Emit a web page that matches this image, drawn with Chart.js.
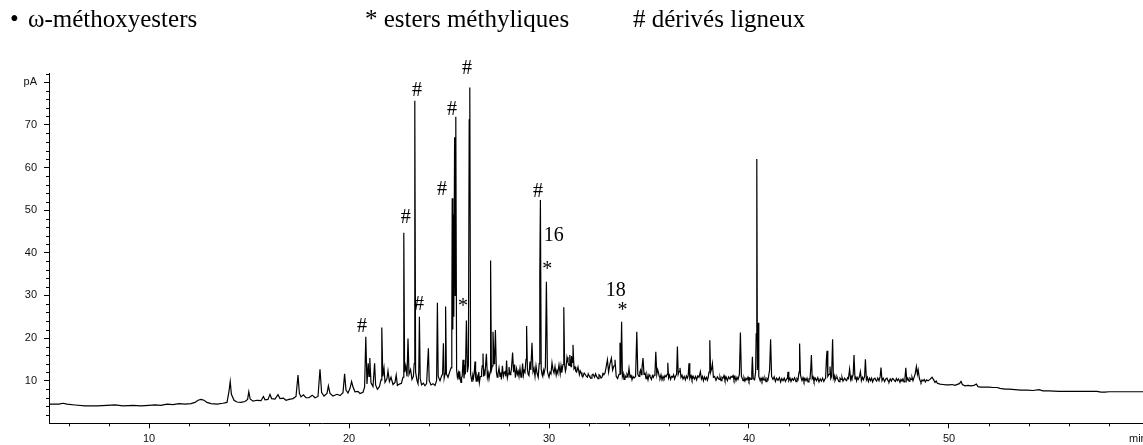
<!DOCTYPE html>
<html lang="fr">
<head>
<meta charset="utf-8">
<title>Chromatogramme</title>
<script src="https://cdn.jsdelivr.net/npm/chart.js@4/dist/chart.umd.min.js"></script>
<style>
  html, body { margin: 0; padding: 0; background: #fff; }
  #wrap { position: relative; width: 1143px; height: 445px; overflow: hidden; }
  #chart { position: absolute; left: 0; top: 0; }
  .key { position: absolute; top: 6px; font: 25px/25px "Liberation Serif", "Times New Roman", serif; color: #000; white-space: nowrap; }
</style>
</head>
<body>
<div id="wrap">
  <canvas id="chart" width="1143" height="445"></canvas>
  <span class="key" style="left:10px">•</span>
  <span class="key" style="left:28px">ω-méthoxyesters</span>
  <span class="key" style="left:365px">* esters méthyliques</span>
  <span class="key" style="left:633px"># dérivés ligneux</span>
</div>
<script>
// FID signal (pA) against retention time (min), split into runs of the trace
const traceEarly = [
  [5.0,4.5],[5.5,4.5],[5.7,4.7],[5.9,4.5],[6.3,4.3],[6.8,4.1],[7.4,4.1],[7.9,4.2],[8.3,4.3],[8.7,4.1],
  [9.2,4.2],[9.6,4.1],[10.0,4.2],[10.3,4.3],[10.6,4.2],[10.9,4.5],[11.2,4.4],[11.5,4.6],[11.8,4.5],[12.1,4.6],
  [12.3,4.9],[12.45,5.4],[12.6,5.6],[12.75,5.4],[12.9,4.9],[13.1,4.6],[13.4,4.5],[13.7,4.7],[13.9,4.9],[14.0,7.5],
  [14.06,9.8],[14.12,6.8],[14.25,5.4],[14.4,5.0],[14.6,4.9],[14.8,5.1],[14.93,5.6],[14.99,7.4],[15.06,5.7],[15.2,5.2],
  [15.4,5.4],[15.6,5.3],[15.72,6.3],[15.8,5.5],[15.95,5.6],[16.05,6.8],[16.13,5.8],[16.3,5.7],[16.45,6.7],[16.55,5.8],
  [16.72,5.9],[16.85,5.4],[17.0,5.6],[17.2,5.8],[17.35,6.3],[17.45,11.3],[17.52,7.0],[17.6,6.2],[17.72,6.7],[17.85,6.0],
  [18.0,6.0],[18.16,6.6],[18.3,6.0],[18.45,6.3],[18.55,12.7],[18.63,7.2],[18.75,6.4],[18.9,7.0],[18.97,8.8],[19.05,7.0],
  [19.2,6.4],[19.4,6.8],[19.55,6.5],[19.7,7.2],[19.78,11.6],[19.85,7.8],[19.95,7.1],[20.05,8.2],[20.13,9.8],[20.2,8.5],
  [20.3,7.4],[20.45,7.5],[20.55,7.0],[20.7,7.3],[20.78,8.5]
];

const traceMain = [
  [20.84,20.3],[20.9,9.2],[20.96,14.1],[21.0,11.0],[21.04,15.3],[21.1,9.5],[21.2,8.6],[21.28,14.1],[21.33,9.0],[21.42,8.0],
  [21.52,8.6],[21.6,10.2],[21.64,22.5],[21.69,11.0],[21.75,13.0],[21.8,9.6],[21.9,10.5],[21.95,12.3],[22.02,9.8],[22.1,10.8],
  [22.2,9.1],[22.3,9.6],[22.36,11.3],[22.42,8.9],[22.52,9.2],[22.62,9.4],[22.7,10.8],[22.74,44.7],[22.78,12.0],[22.84,13.5],
  [22.9,11.0],[22.95,19.9],[23.0,11.5],[23.08,12.6],[23.15,10.3],[23.22,11.0],[23.26,14.0],[23.29,75.7],[23.33,12.0],[23.4,10.0],
  [23.45,9.3],[23.49,12.0],[23.52,25.0],[23.56,10.5],[23.63,9.0],[23.72,9.4],[23.8,8.8],[23.88,9.3],[23.93,14.0],[23.97,17.6],
  [24.01,10.0],[24.1,9.0],[24.2,9.3],[24.3,8.9],[24.38,10.0],[24.42,28.3],[24.46,11.0],[24.55,10.0],[24.62,11.0],[24.68,11.6],
  [24.72,18.8],[24.76,10.6],[24.8,11.6],[24.83,27.4],[24.87,11.6],[24.95,10.8],[25.03,12.0],[25.1,13.0],[25.14,20.0],[25.16,52.8],
  [25.19,22.0],[25.21,49.0],[25.24,25.0],[25.28,67.1],[25.31,30.0],[25.34,71.9],[25.38,12.5],[25.42,10.8],[25.47,11.8],[25.5,10.4],
  [25.53,12.2],[25.57,10.2],[25.6,9.6],[25.63,10.8],[25.66,11.0],[25.7,14.9],[25.75,10.5],[25.79,12.6],[25.82,11.5],[25.87,24.1],
  [25.92,12.0],[25.97,13.5],[26.01,71.2],[26.04,78.8],[26.08,11.5],[26.12,10.4],[26.15,9.7],[26.19,11.3],[26.22,10.5],[26.26,11.8],
  [26.3,14.5],[26.33,11.0],[26.36,9.9],[26.4,11.2],[26.45,10.3],[26.49,12.0],[26.52,9.6],[26.56,10.9],[26.6,11.0],[26.63,12.2],
  [26.66,13.5],[26.7,16.4],[26.73,11.0],[26.76,12.0],[26.79,11.2],[26.82,13.0],[26.87,16.3],[26.92,10.8],[26.96,11.8],[27.0,10.4],
  [27.05,12.0],[27.08,38.2],[27.12,12.5],[27.17,13.5],[27.2,21.5],[27.25,14.0],[27.28,15.0],[27.32,21.9],[27.37,12.0],[27.41,10.8],
  [27.45,11.6],[27.5,13.0],[27.55,11.0],[27.59,11.9],[27.62,10.3],[27.67,13.5],[27.72,11.1],[27.76,11.9],[27.8,12.1],[27.84,11.0],
  [27.88,14.7],[27.92,10.7],[27.96,11.6],[28.0,13.2],[28.05,11.4],[28.09,11.8],[28.12,12.6],[28.18,16.6],[28.23,12.0],[28.28,13.8],
  [28.32,10.7],[28.38,12.8],[28.42,11.5],[28.46,12.2],[28.5,11.0],[28.55,12.9],[28.6,10.8],[28.64,11.6],[28.68,14.0],[28.72,11.3],
  [28.76,12.4],[28.8,12.0],[28.85,15.0],[28.88,22.8],[28.92,12.6],[28.96,11.5],[29.0,11.2],[29.05,14.5],[29.09,12.5],[29.15,18.9],
  [29.2,12.1],[29.25,12.9],[29.3,11.0],[29.35,13.5],[29.4,11.8],[29.46,10.8],[29.51,14.0],[29.54,34.6],[29.57,52.4],[29.61,12.8],
  [29.65,11.5],[29.68,11.1],[29.72,12.4],[29.75,11.6],[29.82,13.2],[29.87,33.2],[29.92,12.2],[29.96,11.4],[30.0,10.8],[30.05,12.0],
  [30.1,11.6],[30.15,14.2],[30.2,12.6],[30.25,11.8],[30.3,13.3],[30.36,11.3],[30.4,12.4],[30.44,11.8],[30.5,13.7],[30.56,11.6],
  [30.6,13.5],[30.64,11.9],[30.7,13.8],[30.74,27.2],[30.78,13.8],[30.82,12.2],[30.85,12.8],[30.9,15.5],[30.95,14.3],[31.0,13.6],
  [31.04,16.0],[31.1,13.3],[31.13,15.8],[31.16,14.3],[31.2,18.4],[31.25,12.8],[31.3,13.2],[31.34,12.2],[31.38,12.0],[31.45,13.2],
  [31.52,11.4],[31.56,12.3],[31.6,11.9],[31.65,11.2],[31.7,11.0],[31.76,11.8],[31.82,11.4],[31.87,11.0],[31.92,10.8],[31.96,11.6],
  [32.0,11.2]
];

const traceLate = [
  [32.05,10.8],[32.1,10.6],[32.15,11.3],[32.2,11.5],[32.28,10.8],[32.33,11.6],[32.38,11.0],[32.45,10.5],[32.5,11.4],[32.55,11.2],
  [32.6,10.6],[32.65,10.8],[32.7,11.7],[32.75,11.5],[32.8,11.8],[32.85,13.0],[32.92,14.9],[32.98,12.0],[33.05,14.0],[33.12,15.3],
  [33.18,12.5],[33.25,13.5],[33.3,14.9],[33.36,11.0],[33.43,10.5],[33.5,11.5],[33.55,18.9],[33.59,11.5],[33.63,23.8],[33.67,11.0],
  [33.71,11.7],[33.75,10.3],[33.8,11.2],[33.85,10.8],[33.9,11.5],[33.95,11.0],[34.0,12.9],[34.05,10.8],[34.1,11.4],[34.15,10.2],
  [34.2,11.0],[34.25,10.6],[34.33,11.0],[34.39,21.5],[34.44,11.5],[34.5,11.0],[34.54,12.0],[34.58,12.5],[34.62,11.4],[34.65,13.0],
  [34.7,15.3],[34.75,11.5],[34.8,11.9],[34.85,10.5],[34.9,11.3],[34.95,10.2],[35.0,11.4],[35.05,11.0],[35.12,10.3],[35.17,11.2],
  [35.22,10.8],[35.26,11.3],[35.3,12.0],[35.34,16.8],[35.39,11.5],[35.43,12.6],[35.47,12.0],[35.51,11.0],[35.55,10.6],[35.6,11.4],
  [35.65,10.2],[35.7,11.0],[35.75,10.5],[35.8,11.2],[35.85,10.9],[35.91,11.5],[35.94,14.2],[35.98,10.6],[36.03,11.3],[36.08,10.3],
  [36.13,11.0],[36.18,10.8],[36.23,11.4],[36.28,10.4],[36.33,11.1],[36.38,11.5],[36.42,18.0],[36.46,11.5],[36.51,12.2],[36.55,13.0],
  [36.6,10.8],[36.65,11.3],[36.7,10.4],[36.76,11.0],[36.82,10.2],[36.87,11.1],[36.92,10.6],[36.96,11.2],[37.0,14.1],[37.04,10.5],
  [37.1,11.2],[37.15,10.2],[37.21,11.0],[37.27,10.4],[37.33,11.0],[37.38,10.2],[37.44,11.1],[37.5,10.8],[37.57,12.1],[37.62,10.4],
  [37.67,11.0],[37.72,10.0],[37.77,10.9],[37.82,10.3],[37.87,10.8],[37.92,10.1],[37.96,10.8],[38.0,12.0],[38.04,19.5],[38.08,12.0],
  [38.13,12.8],[38.17,14.0],[38.22,10.8],[38.28,11.0],[38.35,10.1],[38.42,10.9],[38.5,10.3],[38.55,10.9],[38.6,10.0],[38.65,10.8],
  [38.7,10.6],[38.75,11.2],[38.8,10.1],[38.86,10.8],[38.92,10.0],[38.98,10.9],[39.05,10.4],[39.1,11.0],[39.15,10.8],[39.2,11.2],
  [39.25,10.2],[39.3,10.9],[39.35,10.0],[39.4,10.8],[39.45,10.3],[39.52,11.5],[39.57,21.3],[39.62,11.0],[39.66,10.6],[39.7,10.0],
  [39.75,10.7],[39.8,9.9],[39.85,10.6],[39.9,10.2],[39.95,10.8],[40.0,9.9],[40.05,10.6],[40.1,10.3],[40.14,12.0],[40.17,15.6],
  [40.21,10.5],[40.28,10.2],[40.33,12.0],[40.36,21.0],[40.39,62.0],[40.42,12.5],[40.45,23.6],[40.49,11.0],[40.56,10.0],[40.6,10.6],
  [40.65,9.9],[40.7,10.7],[40.75,10.1],[40.8,10.6],[40.85,9.8],[40.9,10.5],[40.95,10.2],[41.03,12.5],[41.08,19.7],[41.13,11.0],
  [41.2,10.3],[41.26,10.9],[41.32,9.8],[41.38,10.6],[41.45,10.1],[41.52,10.7],[41.58,9.7],[41.64,10.5],[41.7,10.0],[41.76,10.6],
  [41.82,9.8],[41.88,10.4],[41.92,10.5],[41.95,12.1],[41.99,10.0],[42.05,10.6],[42.1,9.8],[42.16,10.5],[42.22,10.1],[42.28,10.7],
  [42.35,9.8],[42.4,10.5],[42.45,10.2],[42.5,12.0],[42.53,18.7],[42.57,11.5],[42.61,10.6],[42.65,10.0],[42.7,10.7],[42.75,9.8],
  [42.8,10.5],[42.85,10.0],[42.9,10.6],[42.95,9.7],[43.0,10.4],[43.05,10.4],[43.09,13.0],[43.12,16.0],[43.16,10.5],[43.2,10.9],
  [43.25,9.8],[43.32,10.6],[43.38,10.0],[43.44,10.7],[43.5,9.7],[43.56,10.4],[43.62,9.9],[43.68,10.6],[43.74,9.8],[43.8,10.4],
  [43.83,10.5],[43.87,15.0],[43.9,17.0],[43.94,11.0],[44.0,11.5],[44.05,13.3],[44.09,10.5],[44.13,11.0],[44.18,19.7],[44.22,10.6],
  [44.26,11.2],[44.3,10.0],[44.35,10.6],[44.4,10.9],[44.45,10.2],[44.5,9.8],[44.55,10.6],[44.6,10.3],[44.65,10.8],[44.7,9.9],
  [44.78,10.6],[44.83,10.2],[44.88,10.0],[44.93,10.7],[44.97,10.5],[45.03,12.7],[45.08,10.3],[45.12,11.0],[45.15,10.6],[45.21,11.5],
  [45.25,16.0],[45.3,10.4],[45.34,11.0],[45.38,10.0],[45.42,10.7],[45.46,10.3],[45.52,10.9],[45.57,12.1],[45.62,10.0],[45.67,10.8],
  [45.72,10.2],[45.78,11.0],[45.82,15.0],[45.87,10.2],[45.92,10.8],[45.97,9.8],[46.03,10.6],[46.08,10.0],[46.13,10.6],[46.18,9.7],
  [46.24,10.4],[46.3,10.6],[46.34,10.1],[46.38,9.9],[46.44,10.6],[46.5,10.0],[46.56,11.0],[46.6,13.1],[46.65,10.0],[46.71,10.6],
  [46.78,9.8],[46.84,10.4],[46.9,10.6],[46.95,10.0],[47.0,9.7],[47.06,10.4],[47.12,9.9],[47.17,10.5],[47.22,10.4],[47.27,10.0],
  [47.32,9.8],[47.37,10.5],[47.42,10.0],[47.48,10.4],[47.55,9.6],[47.6,10.3],[47.65,9.9],[47.7,10.4],[47.75,9.7],[47.8,10.6],
  [47.84,13.0],[47.89,10.0],[47.94,10.6],[48.0,9.9],[48.05,10.6],[48.1,10.3],[48.15,10.8],[48.2,10.0],[48.27,11.0],[48.31,11.6],
  [48.37,13.3],[48.42,11.5],[48.46,12.5],[48.52,10.5],[48.56,10.0],[48.6,9.6],[48.65,10.2],[48.7,9.9],[48.76,10.3],[48.82,9.7],
  [48.88,10.2],[48.95,10.0],[49.05,10.3],[49.15,10.8],[49.22,10.3],[49.3,9.6],[49.36,9.9],[49.42,9.4],[49.55,9.2],[49.7,9.1],
  [49.85,9.0],[50.0,9.0],[50.15,9.1],[50.3,8.9],[50.45,9.2],[50.52,9.3],[50.6,9.8],[50.67,9.1],[50.8,8.8],[50.95,8.9],
  [51.1,8.8],[51.25,8.9],[51.37,9.2],[51.45,8.6],[51.6,8.5],[51.8,8.5],[52.0,8.5],[52.2,8.4],[52.4,8.4],[52.55,8.2],
  [52.8,8.0],[53.0,8.0],[53.3,7.9],[53.6,7.8],[53.9,7.8],[54.2,7.7],[54.5,7.9],[54.7,7.6],[55.0,7.6],[55.5,7.5],
  [56.0,7.5],[56.5,7.5],[57.0,7.5],[57.4,7.5],[57.6,7.3],[57.8,7.3],[58.0,7.4],[58.5,7.4],[59.0,7.4],[59.7,7.4]
];

// Peak annotations: text, retention time, signal level of the text baseline
const peakTags = [
  ['#', 20.65, 21.5], ['#', 22.84, 46.9], ['#', 23.40, 76.7], ['#', 23.50, 26.5],
  ['#', 24.65, 53.6], ['#', 25.15, 72.4], ['*', 25.70, 26.1], ['#', 25.90, 82.0],
  ['#', 29.45, 53.2], ['16', 30.24, 42.8], ['*', 29.91, 34.9], ['18', 33.34, 29.8],
  ['*', 33.67, 25.2]
];

// Axis ranges and labelled ticks
const timeRange = [5, 59.7];
const signalRange = [0, 82];
const timeTicks = [10, 20, 30, 40, 50];
const signalTicks = [10, 20, 30, 40, 50, 60, 70];
const unitTime = 'min';
const unitSignal = 'pA';

const trace = [...traceEarly, ...traceMain, ...traceLate].map(([t, v]) => ({ x: t, y: v }));

const tickFont = { family: '"Liberation Sans", Arial, sans-serif', size: 11 };
const tagFont = '20px "Liberation Serif", "Times New Roman", serif';

// Short unlabelled ticks every 2 units between the labelled ones
const minorTicks = {
  id: 'minorTicks',
  afterDraw(chart) {
    const { ctx, scales: { x, y } } = chart;
    ctx.save();
    ctx.strokeStyle = '#000';
    ctx.lineWidth = 1;
    ctx.beginPath();
    for (let v = signalRange[0] + 2; v <= signalRange[1]; v += 2) {
      if (v % 10 === 0) continue;
      const py = Math.round(y.getPixelForValue(v)) + 0.5;
      ctx.moveTo(y.right - 3, py);
      ctx.lineTo(y.right, py);
    }
    for (let t = 6; t < timeRange[1]; t += 2) {
      if (t % 10 === 0) continue;
      const px = Math.round(x.getPixelForValue(t)) + 0.5;
      ctx.moveTo(px, x.top);
      ctx.lineTo(px, x.top + 3);
    }
    ctx.stroke();
    // unit at the right end of the time axis
    ctx.fillStyle = '#111';
    ctx.font = `${tickFont.size}px ${tickFont.family}`;
    ctx.textAlign = 'left';
    ctx.textBaseline = 'top';
    ctx.fillText(unitTime, x.right - 14, x.top + 10);
    ctx.restore();
  }
};

// Peak markers written above the peaks
const peakLabels = {
  id: 'peakLabels',
  afterDatasetsDraw(chart) {
    const { ctx, scales: { x, y } } = chart;
    ctx.save();
    ctx.fillStyle = '#000';
    ctx.font = tagFont;
    ctx.textAlign = 'center';
    ctx.textBaseline = 'alphabetic';
    peakTags.forEach(([txt, t, v]) => {
      ctx.fillText(txt, x.getPixelForValue(t), y.getPixelForValue(v));
    });
    ctx.restore();
  }
};

new Chart(document.getElementById('chart'), {
  type: 'line',
  data: {
    datasets: [{
      data: trace,
      borderColor: '#000',
      borderWidth: 1.2,
      pointRadius: 0,
      tension: 0,
      fill: false
    }]
  },
  options: {
    responsive: false,
    animation: false,
    devicePixelRatio: 1,
    layout: { padding: { top: 73.8, left: 0, right: 0, bottom: 0 } },
    plugins: { legend: { display: false }, tooltip: { enabled: false } },
    scales: {
      x: {
        type: 'linear',
        min: timeRange[0],
        max: timeRange[1],
        afterBuildTicks(s) { s.ticks = timeTicks.map(v => ({ value: v })); },
        afterFit(s) { s.height = 21.7; },
        border: { color: '#000', width: 1 },
        grid: { drawOnChartArea: false, drawTicks: true, tickLength: 5, tickColor: '#000' },
        ticks: { color: '#111', font: tickFont, padding: 4, maxRotation: 0, autoSkip: false }
      },
      y: {
        type: 'linear',
        min: signalRange[0],
        max: signalRange[1],
        afterBuildTicks(s) { s.ticks = [...signalTicks, 80].map(v => ({ value: v })); },
        afterFit(s) { s.width = 49; },
        border: { color: '#000', width: 1 },
        grid: { drawOnChartArea: false, drawTicks: true, tickLength: 5, tickColor: '#000' },
        ticks: {
          color: '#111', font: tickFont, padding: 7,
          callback: v => (v === 80 ? unitSignal : String(v))
        }
      }
    }
  },
  plugins: [minorTicks, peakLabels]
});
</script>
</body>
</html>
